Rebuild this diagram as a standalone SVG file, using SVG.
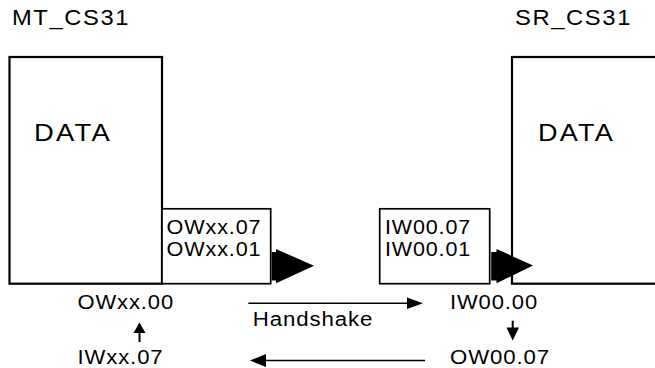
<svg xmlns="http://www.w3.org/2000/svg" width="655" height="368" viewBox="0 0 655 368">
<style>
text{font-family:"Liberation Sans",Arial,sans-serif;fill:#000}
.t22{font-size:22px;letter-spacing:1.5px}
.t24{font-size:24px;letter-spacing:2px}
.t20{font-size:20px;letter-spacing:0.8px}
.big{fill:#fff;stroke:#000;stroke-width:2.2}
.small{fill:#fff;stroke:#000;stroke-width:1.7}
.ln{stroke:#000;stroke-width:1.6;fill:none}
.blk{fill:#000;stroke:none}
</style>
<g id="mt_cs31">
<text class="t22" x="12" y="24.5" textLength="118" lengthAdjust="spacingAndGlyphs">MT_CS31</text>
<rect class="big" x="9.5" y="57" width="152.5" height="226.7"/>
<text class="t24" x="34" y="141" textLength="78" lengthAdjust="spacingAndGlyphs">DATA</text>
</g>
<g id="sr_cs31">
<text class="t22" x="515" y="24.5" textLength="117" lengthAdjust="spacingAndGlyphs">SR_CS31</text>
<rect class="big" x="512" y="57" width="150" height="226.7"/>
<text class="t24" x="538" y="141" textLength="77" lengthAdjust="spacingAndGlyphs">DATA</text>
</g>
<g id="mt_out">
<rect class="small" x="162" y="208.8" width="108.7" height="74.9"/>
<text class="t20" x="166.5" y="234" textLength="95" lengthAdjust="spacingAndGlyphs">OWxx.07</text>
<text class="t20" x="166.5" y="256" textLength="95" lengthAdjust="spacingAndGlyphs">OWxx.01</text>
</g>
<g id="sr_in">
<rect class="small" x="379.7" y="208.8" width="110" height="74.9"/>
<text class="t20" x="385" y="234" textLength="86" lengthAdjust="spacingAndGlyphs">IW00.07</text>
<text class="t20" x="385" y="256" textLength="86" lengthAdjust="spacingAndGlyphs">IW00.01</text>
</g>
<g id="labels">
<text class="t20" x="77.5" y="309" textLength="96.5" lengthAdjust="spacingAndGlyphs">OWxx.00</text>
<text class="t20" x="77.5" y="364" textLength="86" lengthAdjust="spacingAndGlyphs">IWxx.07</text>
<text class="t20" x="450" y="308.5" textLength="88" lengthAdjust="spacingAndGlyphs">IW00.00</text>
<text class="t20" x="450" y="364" textLength="100" lengthAdjust="spacingAndGlyphs">OW00.07</text>
<text class="t20" x="252.7" y="325.7" textLength="120.6" lengthAdjust="spacingAndGlyphs">Handshake</text>
</g>
<g id="connectors">
<polygon class="blk" points="271.7,252 276,252 276,249 314,265.8 276,283.3 276,280.5 271.7,280.5"/>
<polygon class="blk" points="491.2,252 496.5,252 496.5,249 533,265.5 496.5,283.3 496.5,280.5 491.2,280.5"/>
<line class="ln" x1="248.3" y1="303.3" x2="408" y2="303.3"/>
<polygon class="blk" points="407,297.5 423,303.3 407,309.1"/>
<line class="ln" x1="264" y1="360.5" x2="425" y2="360.5"/>
<polygon class="blk" points="266,354 250,360.5 266,367"/>
<line class="ln" x1="139.5" y1="331" x2="139.5" y2="342" style="stroke-width:2"/>
<polygon class="blk" points="133.5,333 139.5,322.5 145.5,333"/>
<line class="ln" x1="512.7" y1="320.7" x2="512.7" y2="329" style="stroke-width:2"/>
<polygon class="blk" points="506.5,327.5 519,327.5 512.7,340.5"/>
</g>
</svg>
